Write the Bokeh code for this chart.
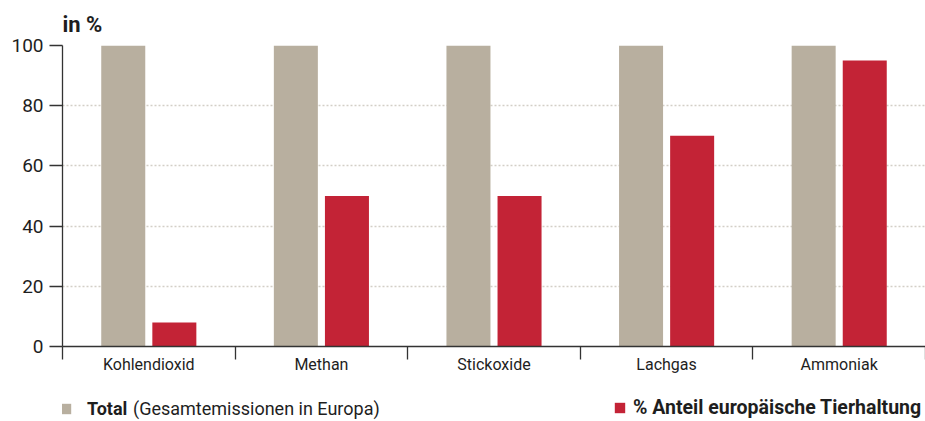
import numpy as np
from bokeh.plotting import figure
from bokeh.layouts import column
from bokeh.models import ColumnDataSource, Range1d, FixedTicker, Legend, LegendItem
from bokeh.transform import dodge
from bokeh.embed import file_html
from bokeh.resources import INLINE

categories = ["Kohlendioxid", "Methan", "Stickoxide", "Lachgas", "Ammoniak"]
total = [100, 100, 100, 100, 100]
anteil = [8, 50, 50, 70, 95]
y_ticks = [0, 20, 40, 60, 80, 100]
label_total = "Total"
label_total_note = "(Gesamtemissionen in Europa)"
label_anteil = "% Anteil europäische Tierhaltung"

GRAY = "#b8af9f"
RED = "#c32336"
TXT = "#1e1e1e"
FONT = "Roboto"

centers = list(np.arange(len(categories)) + 0.5)
src = ColumnDataSource(dict(x=centers, total=total, anteil=anteil, cat=categories))

p = figure(width=925, height=385, output_backend="svg", toolbar_location=None,
           x_range=Range1d(0, len(categories)), y_range=Range1d(0, 100),
           min_border_left=62, min_border_right=0, min_border_top=44, min_border_bottom=39)
p.outline_line_color = None

p.vbar(x=dodge("x", -0.148, range=p.x_range), top="total", width=0.255,
       source=src, fill_color=GRAY, line_color=None)
p.vbar(x=dodge("x", 0.148, range=p.x_range), top="anteil", width=0.255,
       source=src, fill_color=RED, line_color=None)

# title
p.title.text = "in %"
p.title.text_font = FONT
p.title.text_font_size = "22px"
p.title.text_font_style = "bold"
p.title.text_color = TXT
p.title.align = "left"
p.title.standoff = 18
p.title.offset = 0

# x axis
xa = p.xaxis[0]
xa.ticker = FixedTicker(ticks=centers, minor_ticks=list(range(len(categories) + 1)))
xa.major_label_overrides = {float(c): n for c, n in zip(centers, categories)}
xa.major_tick_line_color = None
xa.minor_tick_out = 13
xa.minor_tick_in = 0
xa.minor_tick_line_color = "#333333"
xa.minor_tick_line_width = 1.3
xa.axis_line_color = "#333333"
xa.axis_line_width = 1.3
xa.major_label_standoff = -5
xa.major_label_text_font = FONT
xa.major_label_text_font_size = "16px"
xa.major_label_text_color = TXT
p.xgrid.visible = False

# y axis
ya = p.yaxis[0]
ya.ticker = FixedTicker(ticks=y_ticks)
ya.minor_tick_line_color = None
ya.major_tick_out = 13
ya.major_tick_in = 0
ya.major_tick_line_color = "#333333"
ya.major_tick_line_width = 1.3
ya.axis_line_color = "#333333"
ya.axis_line_width = 1.3
ya.major_label_standoff = 6
ya.major_label_text_font = FONT
ya.major_label_text_font_size = "19px"
ya.major_label_text_color = TXT
p.ygrid.ticker = FixedTicker(ticks=y_ticks[1:])
p.ygrid.grid_line_color = "#d3cfc7"
p.ygrid.grid_line_dash = "2 2"
p.ygrid.grid_line_width = 1.5

# legend strip (its frame is aligned with the main plot's frame)
lf = figure(width=925, height=36, output_backend="svg", toolbar_location=None,
            x_range=Range1d(-10, -9), y_range=Range1d(-10, -9),
            min_border_left=62, min_border_right=0, min_border_top=0, min_border_bottom=0,
            x_axis_type=None, y_axis_type=None)
lf.outline_line_color = None
lf.grid.visible = False
# bars outside this strip's ranges: only their legend swatches show
g_total = lf.vbar(x="x", top="total", bottom="total", width=0.1, source=src,
                  fill_color=GRAY, line_color=None)
g_note = lf.vbar(x=[], top=[], width=0.1, fill_alpha=0, line_alpha=0)
g_anteil = lf.vbar(x="x", top="anteil", bottom="anteil", width=0.1, source=src,
                   fill_color=RED, line_color=None)

def make_legend(item, loc, standoff, style, gw=13, size="18px"):
    return Legend(items=[item], location=loc, orientation="horizontal",
                  glyph_width=gw, glyph_height=13, label_standoff=standoff,
                  padding=0, margin=0, spacing=0,
                  border_line_color=None, background_fill_alpha=0,
                  label_text_font=FONT, label_text_font_size=size,
                  label_text_font_style=style, label_text_color=TXT,
                  label_height=13)

lf.add_layout(make_legend(LegendItem(label=label_total, renderers=[g_total]), (-3, 2), 15, "bold"), "center")
lf.add_layout(make_legend(LegendItem(label=label_total_note, renderers=[g_note]), (71, 2), 0, "normal", gw=0), "center")
lf.add_layout(make_legend(LegendItem(label=label_anteil, renderers=[g_anteil]), (551, 2), 7, "bold", size="19.5px"), "center")

layout = column(p, lf, spacing=0)
open("out.html", "w").write(file_html(layout, INLINE))
